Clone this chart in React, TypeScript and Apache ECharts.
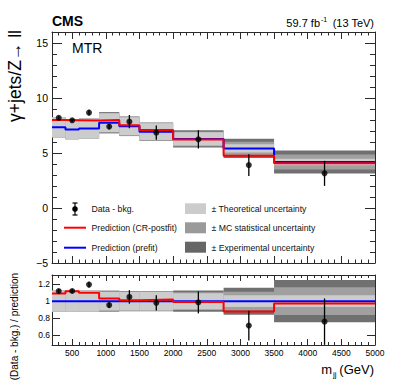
import React, { useEffect, useRef } from "react";
import * as echarts from "echarts";

// ---- data ----
const binEdges = [200, 400, 600, 900, 1200, 1500, 2000, 2750, 3500, 5000];
const binCenters = [300, 500, 750, 1050, 1350, 1750, 2375, 3125, 4250];
const dataValues = [8.2, 7.97, 8.67, 7.4, 7.85, 6.85, 6.24, 3.9, 3.15];
const dataErrors = [0.15, 0.15, 0.27, 0.25, 0.6, 0.65, 0.83, 0.98, 1.14];
const postfitValues = [8.0, 7.98, 7.95, 8.0, 7.52, 7.08, 6.22, 4.76, 4.06];
const prefitValues = [7.34, 7.14, 7.23, 7.75, 7.43, 6.94, 6.28, 5.42, 4.18];
const ratioData = [1.12, 1.12, 1.196, 0.953, 1.05, 0.98, 0.985, 0.71, 0.757];
const ratioErrors = [0.025, 0.025, 0.035, 0.035, 0.08, 0.09, 0.13, 0.176, 0.275];
const ratioPostfit = [1.09, 1.118, 1.1, 1.03, 1.012, 1.02, 0.99, 0.878, 0.973];
const ratioPrefit = [1, 1, 1, 1, 1, 1, 1, 1, 1];
// relative half-widths of nested uncertainty bands
const expUnc = [0.125, 0.125, 0.125, 0.125, 0.12, 0.12, 0.125, 0.16, 0.25];
const statUnc = [0.125, 0.125, 0.125, 0.115, 0.115, 0.115, 0.105, 0.11, 0.165];
const theoUnc = [0.125, 0.125, 0.125, 0.11, 0.11, 0.11, 0.095, 0.07, 0.07];

const xMajorTicks = [500, 1000, 1500, 2000, 2500, 3000, 3500, 4000, 4500, 5000];
const mainYTicks = [-5, 0, 5, 10, 15];
const ratioYTicks = [0.6, 0.8, 1.0, 1.2];

const FONT = "'Liberation Sans', Arial, Helvetica, sans-serif";
const C_LIGHT = "#cccccc";
const C_MED = "#a0a0a0";
const C_DARK = "#707070";
const FRAME = "#2a2a2a";

function stepData(vals: number[]) {
  const d = vals.map((v, i) => [binEdges[i], v]);
  d.push([binEdges[binEdges.length - 1], vals[vals.length - 1]]);
  return d;
}
function bandRows(center: number[], rel: number[]) {
  return rel.map((r, i) => [binEdges[i], binEdges[i + 1], center[i] * (1 - r), center[i] * (1 + r)]);
}
function errRows(xs: number[], v: number[], e: number[]) {
  return xs.map((x, i) => [x, v[i] - e[i], v[i] + e[i]]);
}

function bandSeries(rows: number[][], color: string, xi: number, yi: number, z: number) {
  return {
    type: "custom",
    xAxisIndex: xi,
    yAxisIndex: yi,
    z,
    silent: true,
    data: rows,
    renderItem: (_p: any, api: any) => {
      const a = api.coord([api.value(0), api.value(3)]);
      const b = api.coord([api.value(1), api.value(2)]);
      return {
        type: "rect",
        shape: { x: a[0], y: a[1], width: b[0] - a[0], height: b[1] - a[1] },
        style: { fill: color },
      };
    },
  };
}
function errSeries(rows: number[][], xi: number, yi: number) {
  return {
    type: "custom",
    xAxisIndex: xi,
    yAxisIndex: yi,
    z: 8,
    silent: true,
    data: rows,
    renderItem: (_p: any, api: any) => {
      const a = api.coord([api.value(0), api.value(1)]);
      const b = api.coord([api.value(0), api.value(2)]);
      return {
        type: "line",
        shape: { x1: a[0], y1: a[1], x2: b[0], y2: b[1] },
        style: { stroke: "#000", lineWidth: 1.3 },
      };
    },
  };
}
function lineSeries(vals: number[], color: string, xi: number, yi: number, z: number) {
  return {
    type: "line",
    xAxisIndex: xi,
    yAxisIndex: yi,
    step: "end",
    showSymbol: false,
    z,
    silent: true,
    data: stepData(vals),
    lineStyle: { color, width: 2 },
  };
}
function pointSeries(xs: number[], v: number[], xi: number, yi: number) {
  return {
    type: "scatter",
    xAxisIndex: xi,
    yAxisIndex: yi,
    z: 9,
    silent: true,
    symbol: "circle",
    symbolSize: 6,
    itemStyle: { color: "#000" },
    data: xs.map((x, i) => [x, v[i]]),
  };
}

function xAxisDef(grid: number, position: string, major: boolean, labels: boolean, len: number) {
  const base: any = {
    type: "value",
    gridIndex: grid,
    position,
    min: 200,
    max: 5000,
    splitLine: { show: false },
    axisLine: { show: major, onZero: false, lineStyle: { color: FRAME, width: 1 } },
    axisTick: { show: true, inside: true, length: len, lineStyle: { color: FRAME, width: 1 } },
    axisLabel: { show: false },
  };
  if (major) {
    base.axisTick.customValues = xMajorTicks;
    if (labels) {
      base.axisLabel = {
        show: true,
        customValues: xMajorTicks,
        formatter: (v: number) => String(v),
        fontSize: 8.5,
        fontFamily: FONT,
        color: "#000",
        margin: 3,
      };
    }
  } else {
    base.interval = 100;
  }
  return base;
}

export default function App() {
  const ref = useRef<HTMLDivElement>(null);
  useEffect(() => {
    if (!ref.current) return;
    const chart = echarts.init(ref.current, undefined, { renderer: "svg" });
    const fmtMain = (v: number) => {
      if (mainYTicks.indexOf(v) < 0) return "";
      return v < 0 ? "\u2212" + String(-v) : String(v);
    };
    const yMain = (position: string, major: boolean, labels: boolean) => ({
      type: "value",
      gridIndex: 0,
      position,
      min: -5,
      max: 16,
      interval: major ? 5 : 1,
      splitLine: { show: false },
      axisLine: { show: major, onZero: false, lineStyle: { color: FRAME, width: 1 } },
      axisTick: { show: true, inside: true, length: major ? 10 : 5, lineStyle: { color: FRAME, width: 1 } },
      axisLabel: labels
        ? { show: true, formatter: fmtMain, fontSize: 10.5, fontFamily: FONT, color: "#000", margin: 4 }
        : { show: false },
    });
    const yRatio = (position: string, labels: boolean) => ({
      type: "value",
      gridIndex: 1,
      position,
      min: 0.48,
      max: 1.31,
      splitLine: { show: false },
      axisLine: { show: true, onZero: false, lineStyle: { color: FRAME, width: 1 } },
      axisTick: { show: true, inside: true, length: 8, customValues: ratioYTicks, lineStyle: { color: FRAME, width: 1 } },
      axisLabel: labels
        ? {
            show: true,
            customValues: ratioYTicks,
            formatter: (v: number) => String(Math.round(v * 10) / 10),
            fontSize: 8.5,
            fontFamily: FONT,
            color: "#000",
            margin: 2,
          }
        : { show: false },
    });

    const legendText = (x: number, y: number, t: string) => ({
      type: "text",
      x,
      y,
      style: { text: t, fontSize: 8.7, fontFamily: FONT, fill: "#111", align: "left", verticalAlign: "middle" },
    });

    const option: any = {
      animation: false,
      backgroundColor: "#ffffff",
      grid: [
        { left: 52, top: 32, width: 323, height: 231, containLabel: false, outerBoundsMode: "none" },
        { left: 52, top: 275, width: 323, height: 70, containLabel: false, outerBoundsMode: "none" },
      ],
      xAxis: [
        xAxisDef(0, "bottom", true, false, 7),
        xAxisDef(0, "bottom", false, false, 3.5),
        xAxisDef(0, "top", true, false, 7),
        xAxisDef(0, "top", false, false, 3.5),
        xAxisDef(1, "bottom", true, true, 6),
        xAxisDef(1, "bottom", false, false, 3),
        xAxisDef(1, "top", true, false, 6),
        xAxisDef(1, "top", false, false, 3),
      ],
      yAxis: [
        yMain("left", true, true),
        yMain("left", false, false),
        yMain("right", true, false),
        yMain("right", false, false),
        yRatio("left", true),
        yRatio("right", false),
      ],
      series: [
        bandSeries(bandRows(prefitValues, expUnc), C_DARK, 0, 0, 1),
        bandSeries(bandRows(prefitValues, statUnc), C_MED, 0, 0, 2),
        bandSeries(bandRows(prefitValues, theoUnc), C_LIGHT, 0, 0, 3),
        lineSeries(prefitValues, "#0000ff", 0, 0, 5),
        lineSeries(postfitValues, "#ff0000", 0, 0, 6),
        errSeries(errRows(binCenters, dataValues, dataErrors), 0, 0),
        pointSeries(binCenters, dataValues, 0, 0),

        bandSeries(bandRows(ratioPrefit, expUnc), C_DARK, 4, 4, 1),
        bandSeries(bandRows(ratioPrefit, statUnc), C_MED, 4, 4, 2),
        bandSeries(bandRows(ratioPrefit, theoUnc), C_LIGHT, 4, 4, 3),
        lineSeries(ratioPrefit, "#0000ff", 4, 4, 5),
        lineSeries(ratioPostfit, "#ff0000", 4, 4, 6),
        errSeries(errRows(binCenters, ratioData, ratioErrors), 4, 4),
        pointSeries(binCenters, ratioData, 4, 4),
      ],
      graphic: [
        { type: "text", x: 52, y: 21, style: { text: "CMS", fontSize: 14, fontWeight: "bold", fontFamily: FONT, fill: "#000", align: "left", verticalAlign: "middle" } },
        { type: "text", x: 320, y: 23, style: { text: "59.7 fb", fontSize: 11, fontFamily: FONT, fill: "#000", align: "right", verticalAlign: "middle" } },
        { type: "text", x: 321, y: 19, style: { text: "-1", fontSize: 7, fontFamily: FONT, fill: "#000", align: "left", verticalAlign: "middle" } },
        { type: "text", x: 374, y: 23, style: { text: "(13 TeV)", fontSize: 11, fontFamily: FONT, fill: "#000", align: "right", verticalAlign: "middle" } },
        { type: "text", x: 72, y: 48, style: { text: "MTR", fontSize: 14, fontFamily: FONT, fill: "#000", align: "left", verticalAlign: "middle" } },
        { type: "text", x: 15, y: 30, rotation: Math.PI / 2, style: { text: "\u03b3+jets/Z\u2192 ll", fontSize: 17.5, fontFamily: FONT, fill: "#000", align: "right", verticalAlign: "middle" } },
        { type: "text", x: 14, y: 273, rotation: Math.PI / 2, style: { text: "(Data - bkg.) / prediction", fontSize: 10, fontFamily: FONT, fill: "#000", align: "right", verticalAlign: "middle" } },
        { type: "text", x: 332, y: 369, style: { text: "m", fontSize: 13, fontFamily: FONT, fill: "#000", align: "right", verticalAlign: "middle" } },
        { type: "text", x: 333, y: 374, style: { text: "jj", fontSize: 8, fontFamily: FONT, fill: "#000", align: "left", verticalAlign: "middle" } },
        { type: "text", x: 374, y: 369, style: { text: "(GeV)", fontSize: 13, fontFamily: FONT, fill: "#000", align: "right", verticalAlign: "middle" } },

        // legend
        { type: "line", shape: { x1: 75, y1: 203, x2: 75, y2: 215 }, style: { stroke: "#000", lineWidth: 1.2 } },
        { type: "line", shape: { x1: 72.5, y1: 203, x2: 77.5, y2: 203 }, style: { stroke: "#000", lineWidth: 1.2 } },
        { type: "line", shape: { x1: 72.5, y1: 215, x2: 77.5, y2: 215 }, style: { stroke: "#000", lineWidth: 1.2 } },
        { type: "circle", shape: { cx: 75, cy: 209, r: 2.8 }, style: { fill: "#000" } },
        legendText(91.5, 209, "Data - bkg."),
        { type: "line", shape: { x1: 64, y1: 227.7, x2: 86, y2: 227.7 }, style: { stroke: "#ff0000", lineWidth: 2 } },
        legendText(91.5, 228, "Prediction (CR-postfit)"),
        { type: "line", shape: { x1: 64, y1: 247.7, x2: 86, y2: 247.7 }, style: { stroke: "#0000ff", lineWidth: 2 } },
        legendText(91.5, 247.5, "Prediction (prefit)"),
        { type: "rect", shape: { x: 185, y: 203.3, width: 21, height: 10.7 }, style: { fill: C_LIGHT } },
        legendText(211.5, 209, "\u00b1 Theoretical uncertainty"),
        { type: "rect", shape: { x: 185, y: 222.3, width: 21, height: 11 }, style: { fill: "#9a9a9a" } },
        legendText(211.5, 228, "\u00b1 MC statistical uncertainty"),
        { type: "rect", shape: { x: 185, y: 241.7, width: 21, height: 11 }, style: { fill: "#666666" } },
        legendText(211.5, 247.5, "\u00b1 Experimental uncertainty"),
      ],
    };
    chart.setOption(option);
    return () => chart.dispose();
  }, []);
  return (
    <div
      ref={ref}
      style={{ position: "absolute", left: 0, top: 0, width: 399, height: 387, background: "#fff" }}
    />
  );
}
